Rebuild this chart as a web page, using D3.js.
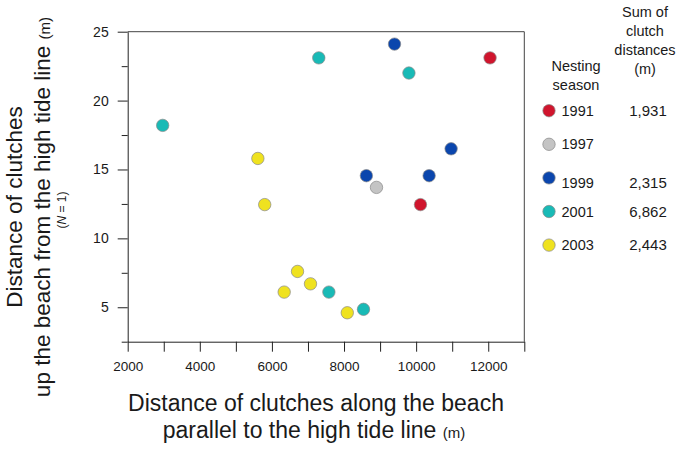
<!DOCTYPE html>
<html>
<head>
<meta charset="utf-8">
<script src="https://cdn.jsdelivr.net/npm/d3@7"></script>
<style>
  body { margin: 0; background: #fff; }
  text { font-family: Arial, "Liberation Sans", sans-serif; fill: #1a1a1a; }
</style>
</head>
<body>
<script>
// nesting seasons and their colours
var seasons = ["1991", "1997", "1999", "2001", "2003"];
var seasonColors = ["#d0152d", "#c4c4c4", "#0b46ad", "#19bab6", "#efe21f"];
var sumLabels = ["1,931", "", "2,315", "6,862", "2,443"];

// clutch positions (x = along the beach, y = up the beach)
var season = ["1991", "1991",
    "1997",
    "1999", "1999", "1999", "1999",
    "2001", "2001", "2001", "2001", "2001",
    "2003", "2003", "2003", "2003", "2003", "2003"];
var alongBeach = [12050, 10120,
    8900,
    9400, 10970, 8620, 10360,
    2970, 7300, 9800, 7580, 8540,
    5610, 5800, 6710, 7070, 6340, 8090];
var upBeach = [23.1, 12.45,
    13.7,
    24.1, 16.5, 14.55, 14.55,
    18.2, 23.1, 22.0, 6.1, 4.85,
    15.8, 12.45, 7.6, 6.7, 6.1, 4.6];

var xTicks = [2000, 4000, 6000, 8000, 10000, 12000];
var yTicks = [5, 10, 15, 20, 25];

var width = 685, height = 455;
var svg = d3.select("body").append("svg")
    .attr("width", width)
    .attr("height", height);

var x = d3.scaleLinear().domain([2000, 13000]).range([127.7, 524.3]);
var y = d3.scaleLinear().domain([2.5, 25]).range([341.7, 31.7]);
var color = d3.scaleOrdinal().domain(seasons).range(seasonColors);

// frame: top and right
svg.append("line")
    .attr("x1", x(2000)).attr("x2", x(13000))
    .attr("y1", y(25)).attr("y2", y(25))
    .attr("stroke", "#444").attr("stroke-width", 1);
svg.append("line")
    .attr("x1", x(13000)).attr("x2", x(13000))
    .attr("y1", y(25)).attr("y2", y(2.5))
    .attr("stroke", "#444").attr("stroke-width", 1);

// x axis, ticks every 1000
var xAxis = svg.append("g")
    .attr("transform", "translate(0," + y(2.5) + ")")
    .call(d3.axisBottom(x)
        .tickValues(d3.range(2000, 13001, 1000))
        .tickSize(10)
        .tickSizeOuter(0)
        .tickFormat(function(d) { return xTicks.indexOf(d) >= 0 ? d : ""; }));
xAxis.selectAll("text")
    .attr("font-size", 13.5)
    .attr("dy", "1.2em")
    .attr("fill", "#1a1a1a");

// y axis, major and minor ticks
var yAxis = svg.append("g")
    .attr("transform", "translate(" + x(2000) + ",0)")
    .call(d3.axisLeft(y)
        .tickValues(d3.range(2.5, 25.01, 2.5))
        .tickSizeOuter(0)
        .tickFormat(function(d) { return yTicks.indexOf(d) >= 0 ? d : ""; }));
yAxis.selectAll(".tick line")
    .attr("x2", function(d) { return yTicks.indexOf(d) >= 0 ? -10 : -6; });
yAxis.selectAll(".tick text")
    .attr("x", -19)
    .attr("font-size", 14)
    .attr("fill", "#1a1a1a");

svg.selectAll(".domain").attr("stroke", "#222");
svg.selectAll(".tick line").attr("stroke", "#222");
svg.selectAll(".tick text").attr("font-family", "Arial, 'Liberation Sans', sans-serif");

// points
var points = d3.range(season.length).map(function(i) {
    return {s: season[i], x: alongBeach[i], y: upBeach[i]};
});
svg.selectAll(".dot")
    .data(points)
    .enter()
    .append("circle")
    .attr("class", "dot")
    .attr("cx", function(d) { return x(d.x); })
    .attr("cy", function(d) { return y(d.y); })
    .attr("r", 6.2)
    .attr("fill", function(d) { return color(d.s); })
    .attr("stroke", "#888")
    .attr("stroke-width", 0.7);

// axis titles
svg.append("text")
    .attr("x", 316).attr("y", 410.5)
    .attr("text-anchor", "middle")
    .attr("font-size", 23)
    .text("Distance of clutches along the beach");
var xt2 = svg.append("text")
    .attr("x", 314).attr("y", 438)
    .attr("text-anchor", "middle")
    .attr("font-size", 23)
    .text("parallel to the high tide line ");
xt2.append("tspan").attr("font-size", 15).text("(m)");

var yt = svg.append("g").attr("transform", "translate(0,207) rotate(-90)");
yt.append("text")
    .attr("x", 0).attr("y", 22)
    .attr("text-anchor", "middle")
    .attr("font-size", 22.5)
    .text("Distance of clutches");
var yt2 = yt.append("text")
    .attr("x", 0).attr("y", 49.5)
    .attr("text-anchor", "middle")
    .attr("font-size", 22.5)
    .text("up the beach from  the high tide line ");
yt2.append("tspan").attr("font-size", 15).text("(m)");
var yt3 = yt.append("text")
    .attr("x", -3).attr("y", 66)
    .attr("text-anchor", "middle")
    .attr("font-size", 12);
yt3.append("tspan").text("(");
yt3.append("tspan").attr("font-style", "italic").text("N");
yt3.append("tspan").text(" = 1)");

// legend headings
var head2 = svg.append("text")
    .attr("text-anchor", "middle")
    .attr("font-size", 14.5);
[["Sum of", 17], ["clutch", 35.5], ["distances", 54.5], ["(m)", 73.5]].forEach(function(h) {
    head2.append("tspan").attr("x", 645).attr("y", h[1]).text(h[0]);
});
var head1 = svg.append("text")
    .attr("text-anchor", "middle")
    .attr("font-size", 14.5);
[["Nesting", 71], ["season", 90]].forEach(function(h) {
    head1.append("tspan").attr("x", 576).attr("y", h[1]).text(h[0]);
});

// legend rows
var textShift = {"1999": 5};
var row = svg.selectAll(".legend")
    .data(seasons)
    .enter()
    .append("g")
    .attr("class", "legend")
    .attr("transform", function(d, i) { return "translate(0," + (110.7 + i * 33.6) + ")"; });
row.append("circle")
    .attr("cx", 549).attr("cy", 0)
    .attr("r", 6.2)
    .attr("fill", function(d) { return color(d); })
    .attr("stroke", "#888")
    .attr("stroke-width", 0.7);
row.append("text")
    .attr("x", 561.5)
    .attr("y", function(d) { return 5 + (textShift[d] || 0); })
    .attr("font-size", 14.5)
    .text(function(d) { return d; });
row.append("text")
    .attr("x", 648)
    .attr("y", function(d) { return 5 + (textShift[d] || 0); })
    .attr("text-anchor", "middle")
    .attr("font-size", 15)
    .text(function(d, i) { return sumLabels[i]; });
</script>
</body>
</html>
